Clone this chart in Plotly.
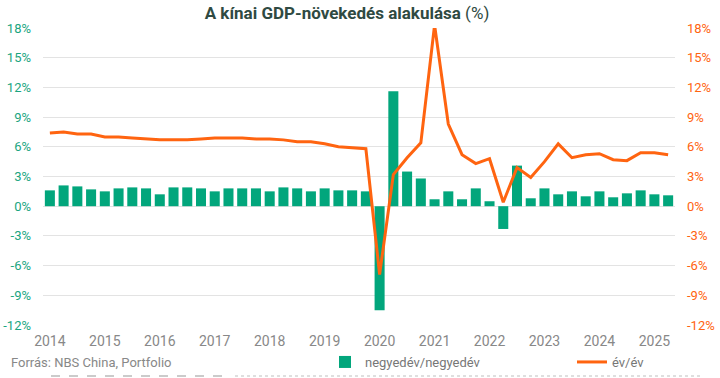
import plotly.graph_objects as go

years = [str(y) for y in range(2014, 2026)]
quarters = [f"{y} Q{q}" for y in range(2014, 2026) for q in range(1, 5)][:46]

qoq = [1.6, 2.1, 2.0, 1.7,
       1.5, 1.8, 1.9, 1.8,
       1.2, 1.9, 1.9, 1.8,
       1.5, 1.8, 1.8, 1.8,
       1.5, 1.9, 1.8, 1.5,
       1.8, 1.6, 1.6, 1.5,
       -10.5, 11.6, 3.5, 2.8,
       0.7, 1.5, 0.7, 1.8,
       0.5, -2.3, 4.1, 0.8,
       1.8, 1.2, 1.5, 1.0,
       1.5, 0.9, 1.3, 1.6,
       1.2, 1.1]

yoy = [7.4, 7.5, 7.3, 7.3,
       7.0, 7.0, 6.9, 6.8,
       6.7, 6.7, 6.7, 6.8,
       6.9, 6.9, 6.9, 6.8,
       6.8, 6.7, 6.5, 6.5,
       6.3, 6.0, 5.9, 5.8,
       -6.9, 3.2, 4.9, 6.4,
       18.3, 8.3, 5.2, 4.3,
       4.8, 0.4, 3.9, 2.9,
       4.5, 6.3, 4.9, 5.2,
       5.3, 4.7, 4.6, 5.4,
       5.4, 5.2]

tick_vals = [-12, -9, -6, -3, 0, 3, 6, 9, 12, 15, 18]
tick_text = [f"{v}%" for v in tick_vals]

GREEN = "#02a67c"
ORANGE = "#ff6410"
FONT = "Roboto"

fig = go.Figure()
fig.add_trace(go.Bar(
    x=quarters, y=qoq, name="negyedév/negyedév",
    marker=dict(color=GREEN, line=dict(width=0)),
    legend="legend", yaxis="y"))
fig.add_trace(go.Scatter(
    x=quarters, y=yoy, name="év/év", mode="lines",
    line=dict(color=ORANGE, width=3), legend="legend2", yaxis="y2"))

fig.update_layout(
    width=720, height=378,
    margin=dict(l=43, r=45, t=28, b=53, autoexpand=False),
    paper_bgcolor="white", plot_bgcolor="white",
    font=dict(family=FONT, size=13, color="#777"),
    bargap=0.27,
    title=dict(
        text="<b>A kínai GDP-növekedés alakulása</b> (%)",
        x=347 / 720, xanchor="center", y=1 - 13 / 378, yanchor="middle",
        xref="container", yref="container",
        font=dict(family=FONT, size=17, color="#2f4a42")),
    xaxis=dict(
        type="category", categoryorder="array", categoryarray=quarters,
        tickvals=[f"{y} Q1" for y in years], ticktext=years,
        tickfont=dict(size=14, color="#888"), showgrid=False,
        ticks="", showline=False, range=[-0.5, 45.5], ticklabelstandoff=6),
    yaxis=dict(
        range=[-12, 18], tickvals=tick_vals, ticktext=tick_text,
        tickfont=dict(size=13, color="#1aa57f"), gridcolor="#e3e3e3",
        gridwidth=1, zeroline=False, showline=False, ticks="",
        ticklabelstandoff=11),
    yaxis2=dict(
        range=[-12, 18], tickvals=tick_vals, ticktext=tick_text,
        overlaying="y", side="right", showgrid=False, zeroline=False,
        tickfont=dict(size=13, color=ORANGE), ticks="", showline=False,
        ticklabelstandoff=11),
    legend=dict(orientation="h", x=325 / 720, xanchor="left",
                y=1 - 362 / 378, yanchor="middle",
                xref="container", yref="container",
                font=dict(size=13, color="#777"), bgcolor="rgba(0,0,0,0)"),
    legend2=dict(orientation="h", x=572 / 720, xanchor="left",
                 y=1 - 362 / 378, yanchor="middle",
                 xref="container", yref="container",
                 font=dict(size=13, color="#777"), bgcolor="rgba(0,0,0,0)"),
    showlegend=True,
)

fig.add_annotation(
    text="Forrás: NBS China, Portfolio", xref="paper", yref="paper",
    x=(9 - 43) / 632, y=(325 - 362) / 297, xanchor="left", yanchor="middle",
    showarrow=False, font=dict(family=FONT, size=13, color="#888"))

fig.add_shape(type="line", xref="paper", yref="paper",
              x0=(51 - 43) / 632, x1=(229 - 43) / 632,
              y0=(325 - 376) / 297, y1=(325 - 376) / 297,
              line=dict(color="#bbb", width=1.5, dash="dash"))
fig.add_shape(type="line", xref="paper", yref="paper",
              x0=(235 - 43) / 632, x1=(700 - 43) / 632,
              y0=(325 - 376) / 297, y1=(325 - 376) / 297,
              line=dict(color="#d5d5d5", width=1.5, dash="dot"))

fig.write_html("out.html",
               config={"displayModeBar": False},
               post_script="document.body.style.margin='0';")
